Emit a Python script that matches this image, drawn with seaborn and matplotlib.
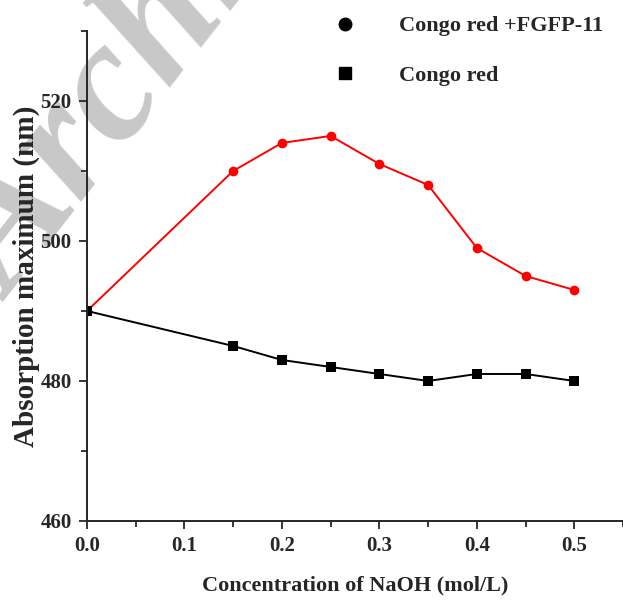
import numpy as np
import pandas as pd
import matplotlib
matplotlib.use('Agg')
import matplotlib.pyplot as plt
from matplotlib.lines import Line2D
from matplotlib.ticker import MultipleLocator
import seaborn as sns

# data
naoh = [0.0, 0.15, 0.2, 0.25, 0.3, 0.35, 0.4, 0.45, 0.5]
cr_fgfp = [490, 510, 514, 515, 511, 508, 499, 495, 493]
cr = [490, 485, 483, 482, 481, 480, 481, 481, 480]
series_names = ['Congo red +FGFP-11', 'Congo red']

df = pd.concat([
    pd.DataFrame({'x': naoh, 'y': cr_fgfp, 'series': series_names[0]}),
    pd.DataFrame({'x': naoh, 'y': cr, 'series': series_names[1]}),
])

sns.set_style('ticks')
plt.rcParams['font.family'] = ['Liberation Serif', 'DejaVu Serif']
plt.rcParams['font.weight'] = 'bold'

fig = plt.figure(figsize=(6.23, 6.03), dpi=100)

# watermark behind everything
fig.text(0.02, 0.50, 'Archive', rotation=52, rotation_mode='anchor',
         ha='left', va='baseline', fontsize=125, style='italic', weight='bold',
         color='#c8c8c8', zorder=-1)

ax = fig.add_axes([0.1396, 0.136, 0.8604, 0.8127])
ax.patch.set_alpha(0)

sns.lineplot(data=df, x='x', y='y', hue='series', style='series',
             palette={series_names[0]: '#ff0000', series_names[1]: '#000000'},
             markers={series_names[0]: 'o', series_names[1]: 's'},
             dashes=False, markersize=7, markeredgewidth=0, linewidth=1.4,
             legend=False, ax=ax)

ax.set_xlim(0, 0.55)
ax.set_ylim(460, 530)
ax.xaxis.set_major_locator(MultipleLocator(0.1))
ax.xaxis.set_minor_locator(MultipleLocator(0.05))
ax.yaxis.set_major_locator(MultipleLocator(20))
ax.yaxis.set_minor_locator(MultipleLocator(10))
ax.set_xticks([0.0, 0.1, 0.2, 0.3, 0.4, 0.5])
ax.set_xticklabels(['0.0', '0.1', '0.2', '0.3', '0.4', '0.5'])
ax.tick_params(which='major', direction='out', length=6, width=1.3,
               labelsize=15, pad=5)
ax.tick_params(which='minor', direction='out', length=4, width=1.3)
for lab in ax.get_xticklabels() + ax.get_yticklabels():
    lab.set_fontweight('bold')

sns.despine(ax=ax)
for s in ['left', 'bottom']:
    ax.spines[s].set_linewidth(1.4)

ax.set_xlabel('Concentration of NaOH (mol/L)', fontsize=16, fontweight='bold',
              labelpad=14)
ax.set_ylabel('Absorption maximum (nm)', fontsize=21, fontweight='bold',
              labelpad=0)

handles = [
    Line2D([], [], marker='o', color='black', linestyle='none', markersize=9),
    Line2D([], [], marker='s', color='black', linestyle='none', markersize=8),
]
fig.legend(handles, series_names, loc='upper left',
           bbox_to_anchor=(0.495, 1.007), frameon=False,
           prop={'size': 16, 'weight': 'bold'}, handletextpad=1.7,
           labelspacing=1.3, handlelength=1.5)

fig.savefig('out.png', dpi=100)
